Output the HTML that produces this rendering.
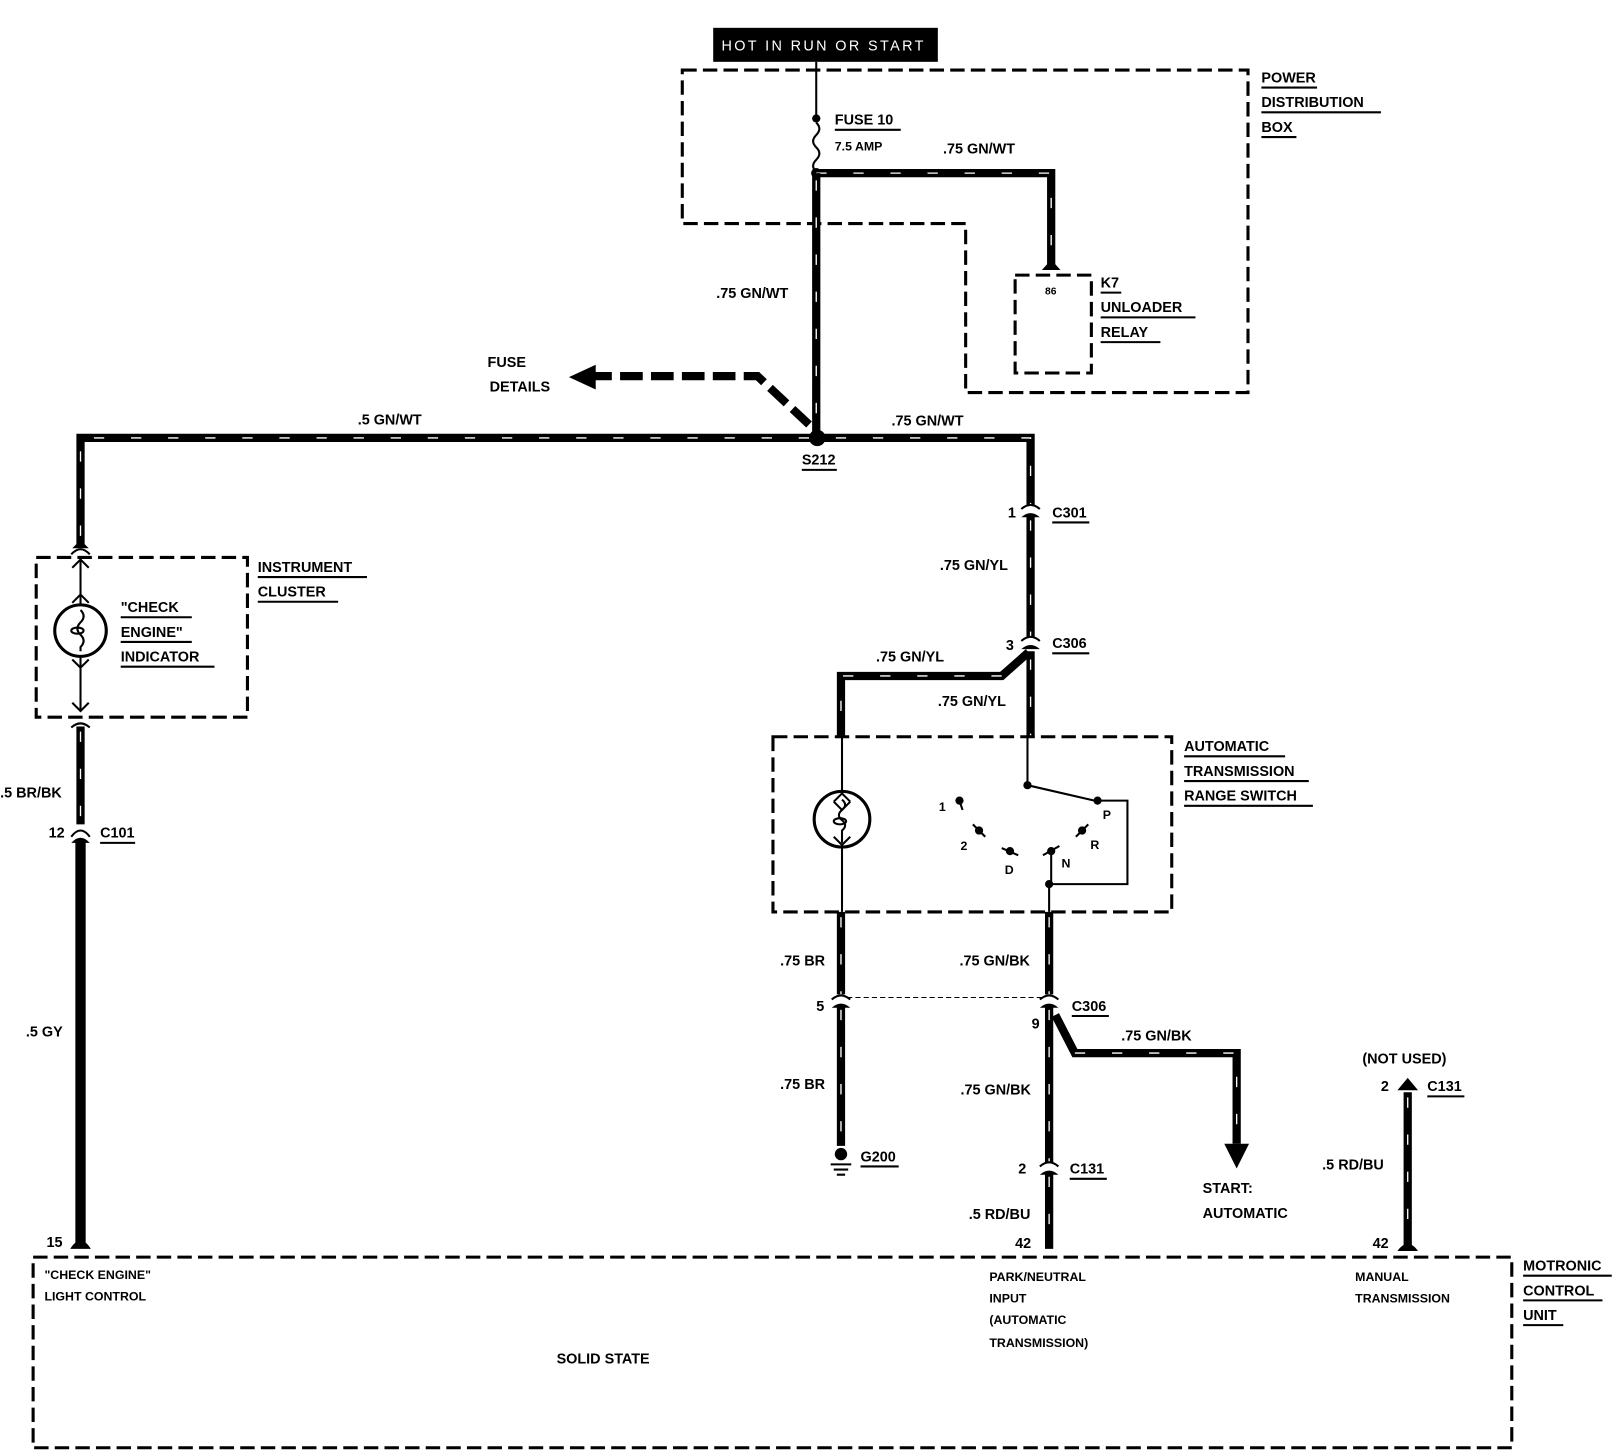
<!DOCTYPE html>
<html><head><meta charset="utf-8"><style>
html,body{margin:0;padding:0;background:#fff;}
svg{display:block;}
text{font-family:"Liberation Sans",sans-serif;font-weight:bold;font-size:14px;fill:#000;}
.w{stroke:#000;stroke-width:8;fill:none;stroke-linejoin:miter;}
.ws{stroke:#fff;stroke-width:1.3;fill:none;stroke-dasharray:10 26;}
.t{stroke:#000;stroke-width:2;fill:none;}
.d{stroke:#000;stroke-width:3;fill:none;stroke-dasharray:14 6;}
.u{stroke:#000;stroke-width:2;}
</style></head><body>
<svg width="1616" height="1456" viewBox="0 0 1568 1413" xmlns="http://www.w3.org/2000/svg">
<rect width="1568" height="1413" fill="#fff"/>
<!-- hot label -->
<rect x="692" y="27" width="218" height="33" fill="#000"/>
<text x="700" y="49" style="fill:#fff;font-weight:normal;font-size:14px" textLength="196">HOT IN RUN OR START</text>
<!-- power distribution box -->
<path class="d" d="M662 68 H1211 V381 H937 V217 H662 Z"/>
<text x="1224" y="80">POWER</text><line class="u" x1="1224" y1="85" x2="1278" y2="85"/>
<text x="1224" y="104">DISTRIBUTION</text><line class="u" x1="1224" y1="109" x2="1340" y2="109"/>
<text x="1224" y="128">BOX</text><line class="u" x1="1224" y1="133" x2="1258" y2="133"/>
<line class="t" x1="792" y1="60" x2="792" y2="115"/>
<circle cx="792" cy="115" r="4"/>
<path class="t" d="M792 119 q6 6 0 12 q-6 6 0 12 q6 6 0 12 q-6 6 0 12"/>
<circle cx="792" cy="168" r="5"/>
<text x="810" y="121">FUSE 10</text><line class="u" x1="810" y1="126" x2="874" y2="126"/>
<text x="810" y="146" style="font-size:12px">7.5 AMP</text>
<text x="915" y="149">.75 GN/WT</text>
<path class="w" d="M792 168 H1020 V258"/><path class="ws" d="M792 168 H1020 V258"/>
<path d="M1011 262 L1020 252 L1029 262 Z"/>
<path class="w" d="M792 168 V425"/><path class="ws" d="M792 175 V425"/>
<text x="695" y="289">.75 GN/WT</text>
<!-- K7 -->
<path class="d" d="M985 267 H1059 V362 H985 Z"/>
<text x="1014" y="286" style="font-size:10px">86</text>
<text x="1068" y="279">K7</text><line class="u" x1="1068" y1="284" x2="1088" y2="284"/>
<text x="1068" y="303">UNLOADER</text><line class="u" x1="1068" y1="308" x2="1160" y2="308"/>
<text x="1068" y="327">RELAY</text><line class="u" x1="1068" y1="332" x2="1126" y2="332"/>
<!-- fuse details -->
<text x="473" y="356">FUSE</text><text x="475" y="380">DETAILS</text>
<path d="M785 412 L735 365 H575" stroke="#000" stroke-width="8" fill="none" stroke-dasharray="22 8"/>
<path d="M552 366 L578 354 L578 378 Z"/>
<!-- S212 horizontal -->
<path class="w" d="M78 530 V425 H1000 V490"/><path class="ws" d="M78 520 V425 H1000 V490"/>
<circle cx="793" cy="425" r="8"/>
<text x="778" y="451">S212</text><line class="u" x1="778" y1="456" x2="812" y2="456"/>
<text x="347" y="412">.5 GN/WT</text>
<text x="865" y="413">.75 GN/WT</text>
<!-- instrument cluster -->
<path d="M69 538 Q78 528 87 538" class="t" stroke-width="3"/>
<path d="M70 532 L78 524 L86 532 Z"/>
<path class="d" d="M35 541 H240 V696 H35 Z"/>
<text x="250" y="555">INSTRUMENT</text><line class="u" x1="250" y1="560" x2="356" y2="560"/>
<text x="250" y="579">CLUSTER</text><line class="u" x1="250" y1="584" x2="328" y2="584"/>
<line class="t" x1="78" y1="540" x2="78" y2="690"/>
<path class="t" d="M70 551 L78 543 L86 551 M70 585 L78 577 L86 585 M70 640 L78 648 L86 640 M70 682 L78 690 L86 682"/>
<circle cx="78" cy="612" r="25" stroke="#000" stroke-width="3" fill="#fff"/>
<path class="t" d="M78 592 q6 6 0 12 q-6 6 0 12 q6 6 0 12 V632"/>
<ellipse cx="75" cy="612" rx="6" ry="3" class="t"/>
<text x="117" y="594">"CHECK</text><line class="u" x1="117" y1="599" x2="186" y2="599"/>
<text x="117" y="618">ENGINE"</text><line class="u" x1="117" y1="623" x2="186" y2="623"/>
<text x="117" y="642">INDICATOR</text><line class="u" x1="117" y1="647" x2="208" y2="647"/>
<path class="t" stroke-width="3" d="M69 706 Q78 698 87 706"/>
<path class="w" d="M78 705 V800"/><path class="ws" d="M78 710 V800"/>
<text x="0" y="774">.5 BR/BK</text>
<path d="M69 812 Q78 800 87 812" class="t" stroke-width="3"/>
<path d="M69 818 Q78 808 87 818 Z"/>
<text x="47" y="813">12</text>
<text x="97" y="813">C101</text><line class="u" x1="97" y1="818" x2="131" y2="818"/>
<rect x="73" y="816" width="10" height="390"/>
<path d="M68 1212 Q78 1196 88 1212 Z"/>
<text x="25" y="1006">.5 GY</text>
<text x="45" y="1210">15</text>
<!-- right main wire -->
<path d="M991 494 Q1000 486 1009 494" class="t" stroke-width="3"/>
<path d="M991 502 Q1000 494 1009 502 Z"/>
<text x="978" y="502">1</text>
<text x="1021" y="502">C301</text><line class="u" x1="1021" y1="507" x2="1057" y2="507"/>
<path class="w" d="M1000 500 V618"/><path class="ws" d="M1000 505 V618"/>
<text x="912" y="553">.75 GN/YL</text>
<path d="M991 622 Q1000 614 1009 622" class="t" stroke-width="3"/>
<path d="M991 630 Q1000 622 1009 630 Z"/>
<text x="976" y="631">3</text>
<text x="1021" y="629">C306</text><line class="u" x1="1021" y1="634" x2="1057" y2="634"/>
<path class="w" d="M998 633 L972 656 H816 V716"/><path class="ws" d="M972 656 H816 V716"/>
<path class="w" d="M1000 632 V716"/><path class="ws" d="M1000 640 V716"/>
<text x="850" y="642">.75 GN/YL</text>
<text x="910" y="685">.75 GN/YL</text>
<!-- range switch box -->
<path class="d" d="M750 715 H1137 V885 H750 Z"/>
<text x="1149" y="729">AUTOMATIC</text><line class="u" x1="1149" y1="734" x2="1247" y2="734"/>
<text x="1149" y="753">TRANSMISSION</text><line class="u" x1="1149" y1="758" x2="1270" y2="758"/>
<text x="1149" y="777">RANGE SWITCH</text><line class="u" x1="1149" y1="782" x2="1274" y2="782"/>
<line class="t" x1="817" y1="716" x2="817" y2="885"/>
<circle cx="817" cy="795" r="27" stroke="#000" stroke-width="3" fill="#fff"/>
<path class="t" d="M809 778 L817 770 L825 778 M809 812 L817 820 L825 812 M809 778 L817 786 L825 778"/>
<path class="t" d="M817 776 q6 5 0 10 q-6 5 0 10 q6 5 0 10 V818"/>
<ellipse cx="815" cy="797" rx="6" ry="3" class="t"/>
<line class="t" x1="997" y1="716" x2="997" y2="762"/>
<circle cx="997" cy="762" r="4"/>
<line class="t" x1="997" y1="762" x2="1062" y2="777"/>
<path class="t" d="M1065 777 H1094 V858 H1018 V885 M1020 826 V858"/>
<circle cx="1018" cy="858" r="4"/>
<g>
<circle cx="931" cy="777" r="4"/><line class="t" x1="931" y1="777" x2="934" y2="786"/>
<circle cx="950" cy="806" r="4"/><line class="t" x1="944" y1="800" x2="956" y2="812"/>
<circle cx="980" cy="826" r="4"/><line class="t" x1="972" y1="823" x2="988" y2="830"/>
<circle cx="1020" cy="826" r="4"/><line class="t" x1="1012" y1="830" x2="1028" y2="821"/>
<circle cx="1050" cy="806" r="4"/><line class="t" x1="1044" y1="812" x2="1056" y2="800"/>
<circle cx="1065" cy="777" r="4"/>
</g>
<text x="911" y="787" style="font-size:12px">1</text>
<text x="932" y="825" style="font-size:12px">2</text>
<text x="975" y="848" style="font-size:12px">D</text>
<text x="1030" y="842" style="font-size:12px">N</text>
<text x="1058" y="824" style="font-size:12px">R</text>
<text x="1070" y="795" style="font-size:12px">P</text>
<!-- lower left -->
<path class="w" d="M816 885 V965"/><path class="ws" d="M816 890 V965"/>
<path d="M807 970 Q816 962 825 970" class="t" stroke-width="3"/>
<path d="M807 978 Q816 970 825 978 Z"/>
<path class="w" d="M816 976 V1112"/><path class="ws" d="M816 980 V1112"/>
<circle cx="816" cy="1120" r="6"/>
<path class="u" d="M806 1130 H826 M809 1135 H823 M812 1140 H820"/>
<text x="835" y="1127">G200</text><line class="u" x1="835" y1="1132" x2="872" y2="1132"/>
<text x="757" y="937">.75 BR</text><text x="757" y="1057">.75 BR</text>
<text x="792" y="981">5</text>
<line x1="822" y1="968" x2="1012" y2="968" stroke="#000" stroke-width="1" stroke-dasharray="5 3"/>
<!-- lower right -->
<path class="w" d="M1018 885 V965"/><path class="ws" d="M1018 890 V965"/>
<path d="M1009 970 Q1018 962 1027 970" class="t" stroke-width="3"/>
<path d="M1009 978 Q1018 970 1027 978 Z"/>
<path class="w" d="M1018 976 V1128"/><path class="ws" d="M1018 980 V1128"/>
<path class="w" d="M1024 985 L1043 1022 H1200 V1110"/><path class="ws" d="M1043 1022 H1200 V1110"/>
<path d="M1188 1110 L1212 1110 L1200 1134 Z"/>
<text x="931" y="937">.75 GN/BK</text>
<text x="1040" y="981">C306</text><line class="u" x1="1040" y1="986" x2="1076" y2="986"/>
<text x="1001" y="998">9</text>
<text x="1088" y="1010">.75 GN/BK</text>
<text x="932" y="1062">.75 GN/BK</text>
<path d="M1009 1132 Q1018 1124 1027 1132" class="t" stroke-width="3"/>
<path d="M1009 1140 Q1018 1132 1027 1140 Z"/>
<path class="w" d="M1018 1138 V1212"/><path class="ws" d="M1018 1142 V1212"/>
<text x="988" y="1139">2</text>
<text x="1038" y="1139">C131</text><line class="u" x1="1038" y1="1144" x2="1074" y2="1144"/>
<text x="940" y="1183">.5 RD/BU</text>
<text x="985" y="1211">42</text>
<text x="1167" y="1158">START:</text><text x="1167" y="1182">AUTOMATIC</text>
<!-- manual -->
<path class="w" d="M1366 1060 V1212"/><path class="ws" d="M1366 1065 V1212"/>
<path d="M1356 1058 L1366 1046 L1376 1058 Z"/>
<path d="M1356 1214 Q1366 1200 1376 1214 Z"/>
<text x="1322" y="1032">(NOT USED)</text>
<text x="1340" y="1059">2</text>
<text x="1385" y="1059">C131</text><line class="u" x1="1385" y1="1064" x2="1421" y2="1064"/>
<text x="1283" y="1135">.5 RD/BU</text>
<text x="1332" y="1211">42</text>
<!-- motronic -->
<path class="d" d="M32 1220 H1467 V1405 H32 Z"/>
<text x="43" y="1241" style="font-size:12px">"CHECK ENGINE"</text>
<text x="43" y="1262" style="font-size:12px">LIGHT CONTROL</text>
<text x="540" y="1323">SOLID STATE</text>
<text x="960" y="1243" style="font-size:12px">PARK/NEUTRAL</text>
<text x="960" y="1264" style="font-size:12px">INPUT</text>
<text x="960" y="1285" style="font-size:12px">(AUTOMATIC</text>
<text x="960" y="1307" style="font-size:12px">TRANSMISSION)</text>
<text x="1315" y="1243" style="font-size:12px">MANUAL</text>
<text x="1315" y="1264" style="font-size:12px">TRANSMISSION</text>
<text x="1478" y="1233">MOTRONIC</text><line class="u" x1="1478" y1="1238" x2="1564" y2="1238"/>
<text x="1478" y="1257">CONTROL</text><line class="u" x1="1478" y1="1262" x2="1555" y2="1262"/>
<text x="1478" y="1281">UNIT</text><line class="u" x1="1478" y1="1286" x2="1517" y2="1286"/>
</svg>
</body></html>
